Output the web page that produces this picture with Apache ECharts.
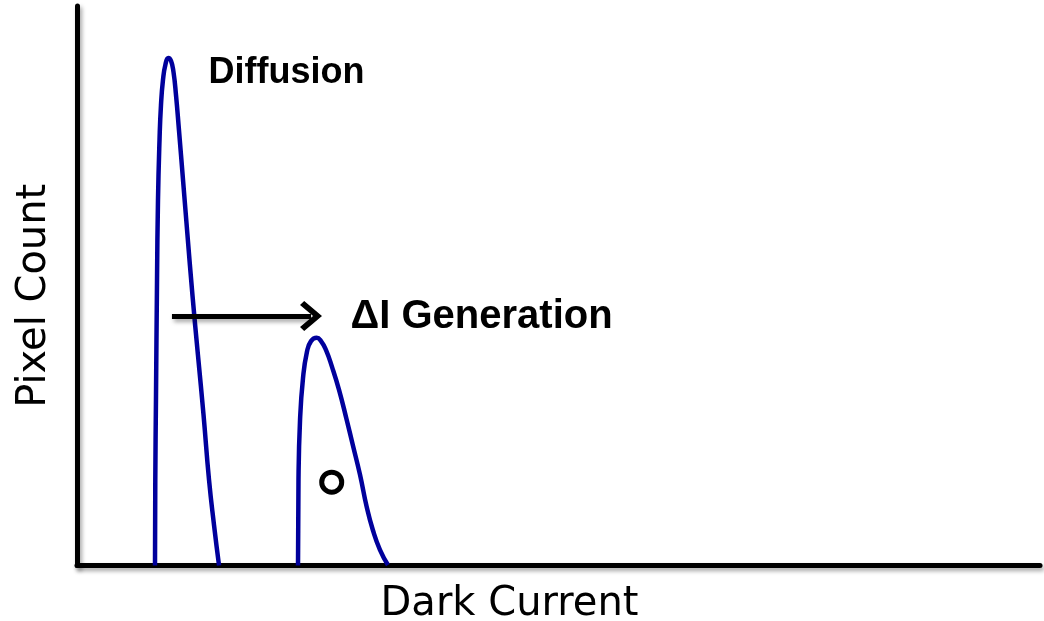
<!DOCTYPE html>
<html>
<head>
<meta charset="utf-8">
<script src="https://cdn.jsdelivr.net/npm/echarts@6/dist/echarts.min.js"></script>
<style>
html,body{margin:0;padding:0;background:#fff;}
#chart{width:1044px;height:621px;}
</style>
</head>
<body>
<div id="chart"></div>
<script>
// Diffusion peak: [dark current, pixel count] (arbitrary units, 0-100)
var diffusionCurve = [
  [8.10, 0], [8.13, 15.3], [8.20, 29.6], [8.31, 51.0], [8.41, 65.3],
  [8.57, 76.1], [8.72, 82.3], [8.93, 86.8], [9.19, 89.6], [9.48, 90.7],
  [9.76, 90.2], [10.02, 88.2], [10.28, 84.1], [10.59, 77.8], [11.01, 68.9],
  [11.47, 59.1], [11.99, 48.3], [12.56, 37.6], [13.14, 26.9], [13.71, 15.3],
  [14.23, 7.2], [14.75, 0]
];
// Generation peak
var generationCurve = [
  [22.95, 0], [23.00, 15.3], [23.16, 26.0], [23.47, 33.5], [23.88, 38.2],
  [24.30, 40.1], [24.89, 40.7], [25.34, 40.1], [25.86, 38.5], [26.48, 35.5],
  [27.21, 31.4], [28.01, 26.0], [28.66, 21.4], [29.39, 16.2], [30.08, 10.5],
  [30.73, 6.3], [31.46, 2.8], [32.29, 0.1]
];
var circlePoint = [[26.45, 14.9]];
var shiftArrow = [[9.86, 44.6], [24.3, 44.6]];
var labelDiffusion = 'Diffusion';
var labelGeneration = 'ΔI Generation';
var labelDiffusionAt = [13.6, 88.0];
var labelGenerationAt = [28.35, 44.4];
var xTitle = 'Dark Current';
var yTitle = 'Pixel Count';

var chart = echarts.init(document.getElementById('chart'), null, {renderer: 'canvas'});
var axisLineStyle = {
  color: '#000', width: 5,
  shadowColor: 'rgba(0,0,0,0.35)', shadowBlur: 4, shadowOffsetX: 2, shadowOffsetY: 3
};
var blue = '#00009c';
chart.setOption({
  animation: false,
  backgroundColor: '#fff',
  grid: {left: 77, right: 4, top: 6, bottom: 55.5, containLabel: false, outerBoundsMode: 'none'},
  xAxis: {
    type: 'value', min: 0, max: 100,
    name: xTitle, nameLocation: 'middle', nameGap: 19,
    nameTextStyle: {fontFamily: 'DejaVu Sans', fontSize: 40, color: '#000', padding: [0, 98, 0, 0]},
    axisLine: {show: true, onZero: false, lineStyle: axisLineStyle},
    axisTick: {show: false}, axisLabel: {show: false}, splitLine: {show: false}
  },
  yAxis: {
    type: 'value', min: 0, max: 100,
    name: yTitle, nameLocation: 'middle', nameGap: 22,
    nameTextStyle: {fontFamily: 'DejaVu Sans', fontSize: 40, color: '#000', padding: [0, 20, 0, 0]},
    axisLine: {show: true, onZero: false, lineStyle: axisLineStyle},
    axisTick: {show: false}, axisLabel: {show: false}, splitLine: {show: false}
  },
  series: [
    {
      type: 'line', data: diffusionCurve, smooth: 0.5, showSymbol: false,
      lineStyle: {color: blue, width: 4.5}, z: 3,
      markPoint: {
        symbol: 'circle', symbolSize: 1, itemStyle: {color: 'transparent'},
        label: {show: true, formatter: labelDiffusion, position: 'right', distance: 0,
          fontFamily: 'Liberation Sans', fontWeight: 'bold', fontSize: 36, color: '#000'},
        data: [{coord: labelDiffusionAt}]
      },
      markLine: {
        silent: true,
        symbol: ['none', 'path://M15,0 L30,17 L26,21 L15,8.5 L4,21 L0,17 Z'],
        symbolSize: [30, 22],
        lineStyle: {color: '#000', width: 5, type: 'solid',
          shadowColor: 'rgba(0,0,0,0.35)', shadowBlur: 4, shadowOffsetX: 2, shadowOffsetY: 3},
        itemStyle: {color: '#000'},
        label: {show: false},
        data: [[{coord: shiftArrow[0]}, {coord: shiftArrow[1]}]]
      }
    },
    {
      type: 'line', data: generationCurve, smooth: 0.5, showSymbol: false,
      lineStyle: {color: blue, width: 4.5}, z: 3,
      markPoint: {
        symbol: 'circle', symbolSize: 1, itemStyle: {color: 'transparent'},
        label: {show: true, formatter: labelGeneration, position: 'right', distance: 0,
          fontFamily: 'Liberation Sans', fontWeight: 'bold', fontSize: 40, color: '#000'},
        data: [{coord: labelGenerationAt}]
      }
    },
    {
      type: 'scatter', data: circlePoint, symbol: 'circle', symbolSize: 20,
      itemStyle: {color: '#fff', borderColor: '#000', borderWidth: 5, opacity: 1}, z: 4
    }
  ]
});
</script>
</body>
</html>
